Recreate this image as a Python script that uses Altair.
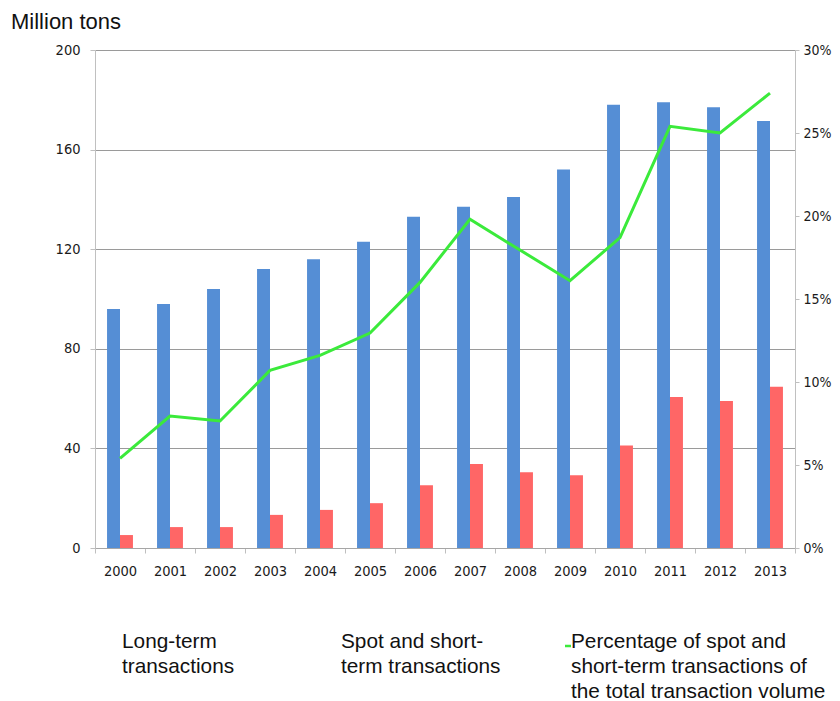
import altair as alt
import pandas as pd

years = [str(y) for y in range(2000, 2014)]
long_term = [96, 98, 104, 112, 116, 123, 133, 137, 141, 152, 178, 179, 177, 171.5]
spot_short = [5.2, 8.4, 8.4, 13.3, 15.3, 18, 25.2, 33.7, 30.4, 29.2, 41.2, 60.6, 59, 64.8]
share_pct = [5.4, 7.95, 7.65, 10.7, 11.6, 12.95, 16.0, 19.8, 17.95, 16.1, 18.7, 25.4, 25.0, 27.4]
series = ["Long-term transactions", "Spot and short-term transactions"]
colors = ["#558ED5", "#FF6666"]
y_ticks = [0, 40, 80, 120, 160, 200]
pct_ticks = [0, 0.05, 0.10, 0.15, 0.20, 0.25, 0.30]

bars_df = pd.DataFrame({
    "year": years * 2,
    "series": [series[0]] * len(years) + [series[1]] * len(years),
    "value": long_term + spot_short,
})
line_df = pd.DataFrame({"year": years, "pct": [p / 100 for p in share_pct]})
one = pd.DataFrame({"k": [0]})

LABEL_FONT = "Liberation Sans Narrow, DejaVu Sans Condensed, Liberation Sans"
TEXT_FONT = "Liberation Sans, Arial, sans-serif"
LBL = 14.5

x_enc = alt.X("year:N", sort=years, title=None,
              scale=alt.Scale(paddingInner=0, paddingOuter=0),
              axis=alt.Axis(labelAngle=0, tickBand="extent", labelFont=LABEL_FONT,
                            labelFontSize=LBL, labelColor="#1a1a1a", labelPadding=11,
                            tickSize=5, tickColor="#bfbfbf", domainColor="#a6a6a6",
                            grid=False))

bars = alt.Chart(bars_df).mark_bar().encode(
    x=x_enc,
    xOffset=alt.XOffset("series:N", scale=alt.Scale(domain=series, paddingInner=0, paddingOuter=0.93)),
    y=alt.Y("value:Q", title=None,
            scale=alt.Scale(domain=[0, 200], nice=False),
            axis=alt.Axis(values=y_ticks, grid=True, gridColor="#9a9a9a", gridWidth=1,
                          domainColor="#c0c0c0", tickColor="#bfbfbf", tickSize=5,
                          labelFont=LABEL_FONT, labelFontSize=LBL, labelColor="#1a1a1a",
                          labelPadding=10)),
    color=alt.Color("series:N", scale=alt.Scale(domain=series, range=colors), legend=None),
)

line = alt.Chart(line_df).mark_line(color="#3BEA3B", strokeWidth=3).encode(
    x=alt.X("year:N", sort=years),
    y=alt.Y("pct:Q", title=None,
            scale=alt.Scale(domain=[0, 0.30], nice=False),
            axis=alt.Axis(orient="right", values=pct_ticks, format=".0%", grid=False,
                          domainColor="#c0c0c0", tickColor="#bfbfbf", tickSize=4,
                          labelFont=LABEL_FONT, labelFontSize=14, labelColor="#1a1a1a",
                          labelPadding=4)),
)

def txt(text, x, y, size=20.8):
    return alt.Chart(one).mark_text(text=text, align="left", baseline="alphabetic",
                                    font=TEXT_FONT, fontSize=size, color="#111",
                                    lineHeight=25).encode(x=alt.value(x), y=alt.value(y))

title = txt("Million tons", -84, -21, size=22)
leg1 = txt(["Long-term", "transactions"], 27, 598)
leg2 = txt(["Spot and short-", "term transactions"], 246, 598)
leg3 = txt(["Percentage of spot and", "short-term transactions of", "the total transaction volume"], 476, 598)
dash = alt.Chart(one).mark_rule(color="#3BEA3B", strokeWidth=2.5).encode(
    x=alt.value(470), x2=alt.value(476), y=alt.value(596))

chart = alt.layer(bars, line, title, leg1, leg2, leg3, dash).resolve_scale(
    y="independent"
).properties(
    width=700, height=498,
    autosize=alt.AutoSizeParams(type="none"),
    padding={"left": 87, "top": 42, "right": 37, "bottom": 153},
).configure_view(stroke=None)

chart.save("out.html", embed_options={"renderer": "svg", "actions": False})
